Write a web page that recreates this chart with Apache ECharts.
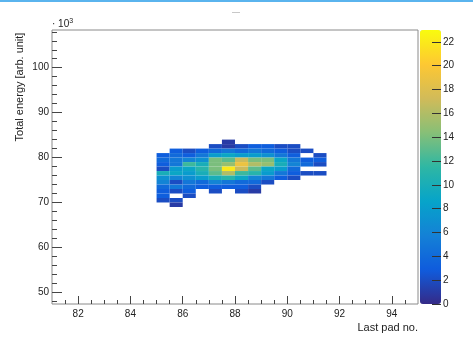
<!DOCTYPE html>
<html>
<head>
<meta charset="utf-8">
<script src="https://cdn.jsdelivr.net/npm/echarts@6/dist/echarts.min.js"></script>
<style>
  html, body { margin: 0; padding: 0; background: #fff; }
  #chart { width: 473px; height: 342px; }
</style>
</head>
<body>
<div id="chart"></div>
<script>
// bin low edges (x: last pad no., width 0.5 / y: total energy x10^3, height 1)
const padBins = [85, 85.5, 86, 86.5, 87, 87.5, 88, 88.5, 89, 89.5, 90, 90.5, 91]
const energyBins = [83, 82, 81, 80, 79, 78, 77, 76, 75, 74, 73, 72, 71, 70, 69]
// counts per energy bin, one row per energyBins entry
const counts = [
  [0, 0, 0, 0, 0, 1, 0, 0, 0, 0, 0, 0, 0],
  [0, 0, 0, 0, 2, 1, 2, 3, 3, 2, 2, 0, 0],
  [0, 3, 2, 3, 4, 5, 4, 5, 4, 3, 2, 2, 0],
  [3, 4, 3, 5, 8, 9, 8, 8, 7, 5, 3, 0, 2],
  [4, 5, 6, 7, 14, 13, 17, 14, 14, 9, 5, 3, 3],
  [3, 5, 12, 10, 14, 15, 19, 16, 15, 10, 6, 4, 2],
  [2, 8, 9, 11, 14, 22, 17, 13, 9, 8, 4, 0, 0],
  [10, 9, 8, 10, 13, 16, 12, 11, 8, 5, 3, 2, 2],
  [7, 6, 7, 8, 10, 11, 9, 6, 5, 3, 2, 0, 0],
  [6, 2, 5, 4, 6, 5, 4, 4, 2, 0, 0, 0, 0],
  [4, 5, 4, 3, 3, 3, 3, 2, 0, 0, 0, 0, 0],
  [3, 2, 3, 0, 2, 0, 2, 1, 0, 0, 0, 0, 0],
  [3, 0, 2, 0, 0, 0, 0, 0, 0, 0, 0, 0, 0],
  [2, 2, 0, 0, 0, 0, 0, 0, 0, 0, 0, 0, 0],
  [0, 1, 0, 0, 0, 0, 0, 0, 0, 0, 0, 0, 0]
]
const xMajor = [82, 84, 86, 88, 90, 92, 94]
const xMinor = [81.5, 82.5, 83, 83.5, 84.5, 85, 85.5, 86.5, 87, 87.5, 88.5, 89, 89.5,
  90.5, 91, 91.5, 92.5, 93, 93.5, 94.5]
const yMajor = [50, 60, 70, 80, 90, 100]
const yMinor = [48, 52, 54, 56, 58, 62, 64, 66, 68, 72, 74, 76, 78, 82, 84, 86, 88,
  92, 94, 96, 98, 102, 104, 106, 108]
const zLabels = [0, 2, 4, 6, 8, 10, 12, 14, 16, 18, 20, 22]

// ROOT kBird palette
const bird = ['#352a87', '#0f5cdd', '#1481d6', '#06a4ca', '#2eb7a4', '#87bf77',
  '#d1bb59', '#fec832', '#f9fb0e']

const cells = []
energyBins.forEach((y, j) => {
  padBins.forEach((x, i) => {
    if (counts[j][i] > 0) cells.push([x, y, counts[j][i]])
  })
})

const font = 'Liberation Sans'
const txt = '#222'

const chart = echarts.init(document.getElementById('chart'))
const option = {
  animation: false,
  grid: [
    { left: 52, right: 55, top: 30, bottom: 38, show: true, borderColor: '#8a8a8a', borderWidth: 1, backgroundColor: 'transparent', outerBoundsMode: 'none' },
    // colorbar ticks sit on the right part of the bar (432..441)
    { left: 432, top: 30, width: 9, height: 274, show: false, outerBoundsMode: 'none' }
  ],
  xAxis: [
    {
      type: 'value', gridIndex: 0, min: 81, max: 95, position: 'bottom',
      axisLine: { show: false },
      splitLine: { show: false },
      axisTick: { inside: true, length: 8, customValues: xMajor, lineStyle: { color: '#444' } },
      axisLabel: { customValues: xMajor, fontFamily: font, fontSize: 10, color: txt, margin: 5 }
    },
    {
      type: 'value', gridIndex: 0, min: 81, max: 95, position: 'bottom',
      axisLine: { show: false },
      splitLine: { show: false },
      axisTick: { inside: true, length: 4, customValues: xMinor, lineStyle: { color: '#444' } },
      axisLabel: { show: false }
    },
    { type: 'value', gridIndex: 1, min: 0, max: 1, show: false }
  ],
  yAxis: [
    {
      type: 'value', gridIndex: 0, min: 47.4, max: 108.4, position: 'left',
      axisLine: { show: false },
      splitLine: { show: false },
      axisTick: { inside: true, length: 10, customValues: yMajor, lineStyle: { color: '#444' } },
      axisLabel: { customValues: yMajor, fontFamily: font, fontSize: 10, color: txt, margin: 3 }
    },
    {
      type: 'value', gridIndex: 0, min: 47.4, max: 108.4, position: 'left',
      axisLine: { show: false },
      splitLine: { show: false },
      axisTick: { inside: true, length: 5, customValues: yMinor, lineStyle: { color: '#444' } },
      axisLabel: { show: false }
    },
    {
      type: 'value', gridIndex: 1, min: 0, max: 23, position: 'left', z: 10,
      axisLine: { show: false },
      splitLine: { show: false },
      axisTick: { inside: true, length: 9, customValues: zLabels, lineStyle: { color: '#333' } },
      axisLabel: { show: false }
    },
    {
      type: 'value', gridIndex: 1, min: 0, max: 23, position: 'right', z: 10,
      axisLine: { show: false },
      splitLine: { show: false },
      axisTick: { show: false },
      axisLabel: { customValues: zLabels, fontFamily: font, fontSize: 10, color: txt, margin: 2 }
    }
  ],
  visualMap: {
    type: 'continuous',
    min: 0,
    max: 23,
    dimension: 2,
    seriesIndex: 0,
    calculable: false,
    hoverLink: false,
    left: 420,
    top: 30,
    padding: 0,
    z: 1,
    itemWidth: 21,
    itemHeight: 274,
    inRange: { color: bird }
  },
  series: [
    {
      type: 'custom',
      xAxisIndex: 0,
      yAxisIndex: 0,
      data: cells,
      encode: { x: 0, y: 1 },
      renderItem: function(params, api) {
        const p1 = api.coord([api.value(0), api.value(1) + 1])
        const p2 = api.coord([api.value(0) + 0.5, api.value(1)])
        return {
          type: 'rect',
          shape: { x: p1[0], y: p1[1], width: p2[0] - p1[0], height: p2[1] - p1[1] },
          style: { fill: api.visual('color') }
        }
      }
    }
  ],
  graphic: [
    { type: 'rect', left: 0, top: 0, shape: { width: 473, height: 2 }, style: { fill: '#5ab4ee' } },
    { type: 'rect', left: 232, top: 12, shape: { width: 8, height: 1 }, style: { fill: '#c8c8c8' } },
    {
      type: 'text', x: 20, y: 87, rotation: Math.PI / 2,
      style: { text: 'Total energy [arb. unit]', font: '11px "Liberation Sans"', fill: txt, align: 'center', verticalAlign: 'middle' }
    },
    {
      type: 'text', x: 418, y: 328,
      style: { text: 'Last pad no.', font: '11px "Liberation Sans"', fill: txt, align: 'right', verticalAlign: 'middle' }
    },
    {
      type: 'text', x: 52, y: 24,
      style: {
        text: '· 10{s|3}',
        font: '10px "Liberation Sans"',
        fill: txt,
        align: 'left',
        verticalAlign: 'middle',
        rich: { s: { fontSize: 7, fontFamily: font, verticalAlign: 'top', padding: [0, 0, 6, 0], fill: txt } }
      }
    }
  ]
}
chart.setOption(option)
</script>
</body>
</html>
